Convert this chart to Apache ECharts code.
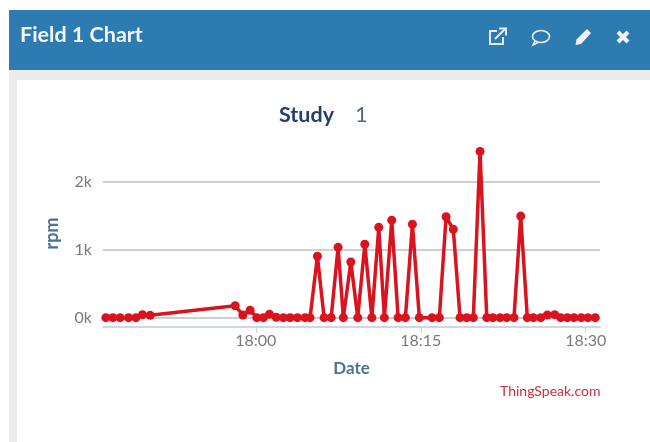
<!DOCTYPE html>
<html><head><meta charset="utf-8">
<style>html,body{margin:0;padding:0;background:#fff}#c{width:650px;height:442px;filter:blur(0.5px)}</style>
<script src="https://cdn.jsdelivr.net/npm/echarts@6/dist/echarts.min.js"></script>
</head><body><div id="c"></div>
<script>
const panelTitle = 'Field 1 Chart';
const xName = 'Date', yName = 'rpm', credit = 'ThingSpeak.com';
// minutes since midnight
const minutes = [1066.36,1067.0,1067.66,1068.42,1069.09,1069.69,1070.39,1078.12,1078.82,1079.48,1080.09,1080.69,1081.24,1081.85,1082.51,1083.12,1083.78,1084.48,1084.93,1085.6,1086.21,1086.85,1087.48,1087.96,1088.64,1089.27,1089.91,1090.55,1091.18,1091.69,1092.36,1092.94,1093.6,1094.24,1094.87,1096.03,1096.69,1097.3,1097.96,1098.57,1099.18,1099.78,1100.39,1101.0,1101.55,1102.21,1102.82,1103.48,1104.09,1104.69,1105.24,1105.91,1106.51,1107.18,1107.73,1108.33,1108.94,1109.6,1110.21,1110.87];
const rpm = [5,5,5,5,5,50,40,180,45,115,5,5,55,10,5,5,5,5,5,910,5,5,1040,5,825,5,1085,5,1335,5,1440,5,5,1380,5,5,5,1490,1305,5,5,5,2450,5,5,5,5,5,1500,5,5,5,45,50,5,5,5,5,5,5];
const xTicks = [1080,1095,1110];
const yTicks = [0,1000,2000];
const font = 'Lato';
const fmtTime = v => String(Math.floor(v/60)).padStart(2,'0')+':'+String(v%60).padStart(2,'0');
const iconCol = '#e4eef6';
const chart = echarts.init(document.getElementById('c'), null, {renderer:'canvas'});
chart.setOption({
  animation:false,
  backgroundColor:'#fff',
  title:{
    text:'{a|Study}{b|1}', left:274, top:99,
    textStyle:{rich:{
      a:{fontFamily:font,fontWeight:'bold',fontSize:21.5,color:'#24406e',width:76},
      b:{fontFamily:font,fontWeight:'normal',fontSize:22,color:'#4f6a8c'}
    }}
  },
  grid:{left:103,right:50,top:140,height:187},
  xAxis:{
    type:'value', min:1066.1, max:1111.3,
    name:xName, nameLocation:'middle', nameGap:33,
    nameTextStyle:{fontFamily:font,fontWeight:'bold',fontSize:17,color:'#4d6f98'},
    axisLine:{show:true,onZero:false,lineStyle:{color:'#cdd8e6',width:2}},
    axisTick:{show:true,length:6,customValues:xTicks,lineStyle:{color:'#cdd8e6'}},
    axisLabel:{customValues:xTicks,formatter:fmtTime,fontFamily:font,fontSize:16,color:'#7a7a7a',margin:6},
    splitLine:{show:false}
  },
  yAxis:{
    type:'value', min:-132, max:2620,
    name:yName, nameLocation:'middle', nameGap:42, nameRotate:90,
    nameTextStyle:{fontFamily:font,fontWeight:'bold',fontSize:18,color:'#4d6f98'},
    axisLine:{show:false},
    axisTick:{show:false,customValues:yTicks},
    axisLabel:{customValues:yTicks,formatter:v=>(v/1000)+'k',fontFamily:font,fontSize:16,color:'#7a7a7a',margin:11},
    splitLine:{show:true,lineStyle:{color:'#cfcfcf',width:2}}
  },
  series:[{
    type:'line',
    data:minutes.map((m,i)=>[m,rpm[i]]),
    symbol:'circle',symbolSize:9,
    lineStyle:{color:'#d9141f',width:3.5},
    itemStyle:{color:'#d9141f'},
    z:5
  }],
  graphic:[
    {type:'rect',z:-10,shape:{x:9,y:70,width:641,height:372},style:{fill:'#ececee'}},
    {type:'rect',z:-9,shape:{x:17,y:80,width:633,height:362},style:{fill:'#fff'}},
    {type:'rect',z:-8,shape:{x:9,y:10,width:641,height:60},style:{fill:'#2e7bb1'}},
    {type:'text',z:10,x:20,y:24,style:{text:panelTitle,fontFamily:font,fontWeight:'bold',fontSize:21.5,fill:'#f2f6fa'}},
    // external-link icon
    {type:'polyline',z:10,shape:{points:[[497,31],[490,31],[490,44],[503,44],[503,37]]},style:{fill:'none',stroke:iconCol,lineWidth:2}},
    {type:'polyline',z:10,shape:{points:[[495,39],[505,29]]},style:{fill:'none',stroke:iconCol,lineWidth:2}},
    {type:'polyline',z:10,shape:{points:[[499,28.5],[506,28.5],[506,35.5]]},style:{fill:'none',stroke:iconCol,lineWidth:2}},
    // comment icon
    {type:'ellipse',z:10,shape:{cx:541,cy:36.5,rx:8.5,ry:6},style:{fill:'none',stroke:iconCol,lineWidth:1.6}},
    {type:'polyline',z:10,shape:{points:[[535,41],[533,45],[538,42.5]]},style:{fill:'none',stroke:iconCol,lineWidth:1.6}},
    // pencil icon
    {type:'polygon',z:10,shape:{points:[[587,29],[591,33],[581,44],[575.5,45],[576.5,39.5]]},style:{fill:'#f2f6fa'}},
    // close icon
    {type:'polyline',z:10,shape:{points:[[618,32],[628,42]]},style:{stroke:'#f2f6fa',lineWidth:4,fill:'none'}},
    {type:'polyline',z:10,shape:{points:[[628,32],[618,42]]},style:{stroke:'#f2f6fa',lineWidth:4,fill:'none'}},
    {type:'text',z:10,x:500,y:384,style:{text:credit,fontFamily:font,fontSize:14,fill:'#c9303f'}}
  ]
});
</script></body></html>
